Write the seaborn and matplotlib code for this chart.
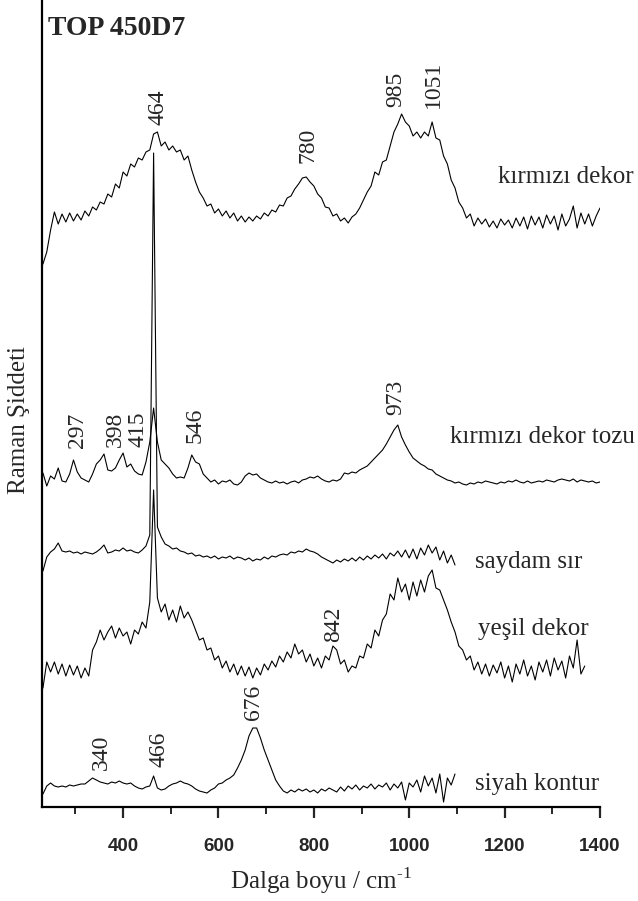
import numpy as np
import pandas as pd
import matplotlib
matplotlib.use("Agg")
import matplotlib.pyplot as plt
from matplotlib.ticker import MultipleLocator, FixedLocator
import seaborn as sns

# ---------------- data ----------------
wn_start = 232
wn_step = 8

names = ["kırmızı dekor", "kırmızı dekor tozu", "saydam sır", "yeşil dekor", "siyah kontur"]

kirmizi_dekor = [
    -42, -30, -8, 10, -2, 8, 0, 9, 1, 8, 2, 11, 6, 15, 12, 20, 18, 28, 25, 38,
    34, 50, 46, 58, 55, 64, 62, 70, 72, 88, 90, 76, 80, 72, 76, 70, 72, 62, 66, 52,
    40, 30, 24, 16, 18, 9, 13, 6, 11, 4, 9, 1, 6, 0, 5, 1, 6, 3, 9, 6,
    12, 10, 17, 16, 24, 26, 33, 38, 44, 45, 40, 36, 28, 24, 15, 14, 6, 8, 1, 4,
    -1, 5, 8, 14, 22, 30, 36, 50, 47, 60, 62, 76, 90, 98, 108, 100, 96, 86, 90, 84,
    90, 86, 100, 84, 82, 66, 58, 42, 34, 20, 14, 4, 8, -4, 4, -2, 3, -5, 1, -6,
    3, -3, 2, -6, 4, -4, 5, -7, 6, -3, 5, -6, 7, -2, 6, -8, 8, -4, 3, 16,
    -6, 9, -2, 8, -4, 6, 14,
]

kirmizi_dekor_tozu = [
    9, -4, 6, 3, 14, 1, 0, 8, 22, 10, 4, 2, 0, 8, 18, 22, 28, 12, 11, 14,
    22, 29, 15, 18, 11, 8, 7, 20, 40, 74, 40, 22, 18, 14, 8, 4, 5, 4, 14, 27,
    20, 18, 8, 4, 0, 2, -2, 1, 0, 2, -2, -3, 0, 6, 9, 7, 8, 4, 2, 0,
    -1, 1, -1, 0, -2, 0, 1, -1, 2, 3, 5, 4, 6, 3, 1, 0, 2, 1, 3, 9,
    8, 10, 9, 12, 14, 16, 20, 24, 28, 32, 38, 45, 52, 57, 45, 37, 30, 24, 21, 18,
    16, 13, 12, 8, 6, 4, 2, 1, -1, 0, -2, -3, -1, -2, 0, -1, 1, 0, -1, -2,
    0, -1, 1, 0, 2, 0, -1, 1, -1, 0, 1, 0, 2, 1, 0, 2, 3, 2, 1, 3,
    0, 2, 1, 0, 1, -1, 0,
]

saydam_sir = [
    -14, 0, 5, 8, 14, 6, 5, 6, 4, 5, 3, 5, 4, 3, 5, 8, 12, 4, 5, 7,
    6, 9, 6, 7, 5, 4, 7, 11, 22, 404, 30, 20, 13, 11, 8, 9, 6, 5, 3, 4,
    1, 2, 0, 1, -1, 1, -2, 0, -1, 1, -2, 0, -1, -3, -1, -4, -2, -3, 0, -2,
    1, 0, 2, 3, 2, 5, 4, 6, 5, 8, 6, 5, 3, 0, -2, -4, -6, -3, -5, -2,
    -4, -1, -4, 0, -3, 1, -2, 2, -1, 3, -2, 4, 1, 6, 0, 7, -1, 8, -2, 9,
    2, 12, 4, 10, -3, 6, -6, 2, -8,
]

yesil_dekor = [
    -18, 8, -2, 8, -4, 6, -6, 5, -5, 4, -8, 2, -6, 20, 28, 40, 30, 38, 44, 32,
    42, 34, 38, 26, 40, 36, 48, 42, 68, 180, 72, 58, 66, 50, 60, 48, 64, 52, 58, 50,
    40, 30, 32, 20, 22, 10, 14, 2, 9, -2, 6, -5, 4, -6, 3, -8, 2, -5, 6, 0,
    9, 3, 14, 8, 18, 12, 26, 16, 20, 8, 16, 4, 12, 2, 14, 10, 24, 20, 6, 10,
    -2, 4, 2, 14, 12, 26, 22, 40, 34, 50, 56, 76, 70, 92, 78, 86, 70, 88, 74, 90,
    78, 94, 100, 82, 80, 70, 60, 48, 38, 24, 20, 10, 14, 0, 8, -4, 6, -6, 5, -3,
    8, -8, 4, -12, 6, -4, 10, -6, 4, -10, 8, -2, 10, -6, 12, 0, 9, -8, 14, 2,
    30, -4, 4,
]

siyah_kontur = [
    -6, 2, 5, 2, 1, 2, 1, 3, 2, 3, 4, 4, 7, 10, 8, 6, 5, 4, 6, 5,
    7, 5, 4, 5, 2, 0, -1, 1, 2, 12, 0, -2, -1, 2, 4, 5, 7, 5, 4, 2,
    -1, -3, -4, -5, -2, 0, 4, 5, 8, 10, 13, 20, 28, 38, 52, 60, 60, 50, 38, 28,
    18, 8, 2, -3, -5, -2, -4, -1, -3, -1, -4, -2, -5, -1, -3, 0, -2, -4, 1, -3,
    2, -1, 3, -2, 2, 0, 4, -1, 3, 1, 5, -2, 4, 0, 6, -12, 5, 1, 8, -4,
    12, 2, 10, -5, 14, -14, 10, 3, 14,
]

spectra = [kirmizi_dekor, kirmizi_dekor_tozu, saydam_sir, yesil_dekor, siyah_kontur]

# peak labels
peak_texts = ["464", "780", "985", "1051", "297", "398", "415", "546", "973", "842", "340", "466", "676"]

x_ticks_major = [400, 600, 800, 1000, 1200, 1400]

# ---------------- layout / style ----------------
offsets = [585, 325, 250, 137, 19]
peak_x = [473, 788, 972, 1050, 305, 383, 431, 551, 972, 842, 354, 475, 674]
peak_y = [682, 644, 700, 699, 359, 360, 360, 364, 392, 165, 37, 40, 87]
name_x = [1186, 1085, 1138, 1144, 1138]
name_y = [624, 364, 239, 172, 17]

sns.set_style("ticks")
plt.rcParams["font.family"] = ["Liberation Serif", "DejaVu Serif"]
plt.rcParams["mathtext.fontset"] = "custom"
plt.rcParams["mathtext.rm"] = "Liberation Serif"

fig = plt.figure(figsize=(6.38, 9.01), dpi=100)
ax = fig.add_axes([42 / 638, 1 - 807 / 901, 558 / 638, 807 / 901])

rows = []
for name, vals, off in zip(names, spectra, offsets):
    for i, v in enumerate(vals):
        rows.append({"name": name, "wn": wn_start + wn_step * i, "val": v + off})
df = pd.DataFrame(rows)

for name in names:
    sns.lineplot(data=df[df["name"] == name], x="wn", y="val", color="black",
                 lw=0.8, ax=ax, estimator=None, sort=False, legend=False)

ax.set_xlim(230, 1400)
ax.set_ylim(0, 807)

for s in ["top", "right"]:
    ax.spines[s].set_visible(False)
for s in ["left", "bottom"]:
    ax.spines[s].set_linewidth(1.6)
    ax.spines[s].set_color("black")

ax.set_yticks([])
ax.xaxis.set_major_locator(FixedLocator(x_ticks_major))
ax.xaxis.set_minor_locator(MultipleLocator(100))
ax.tick_params(axis="x", which="major", direction="out", length=8, width=1.6, pad=14)
ax.tick_params(axis="x", which="minor", direction="out", length=5, width=1.4)
ax.set_xticklabels([str(t) for t in x_ticks_major],
                   fontdict={"family": "Liberation Sans", "weight": "bold", "size": 13.5})

ax.set_xlabel(r"Dalga boyu / cm$^{\text{-1}}$", fontsize=18, labelpad=8)
ax.set_ylabel("Raman Şiddeti", fontsize=18)
ax.yaxis.set_label_coords(-0.022, 0.48)

for t, x, y in zip(peak_texts, peak_x, peak_y):
    ax.text(x, y, t, rotation=90, ha="center", va="bottom", fontsize=17)

for n, x, y in zip(names, name_x, name_y):
    ax.text(x, y, n, ha="left", va="baseline", fontsize=18, clip_on=False)

ax.text(243, 772, "TOP 450D7", fontsize=20, fontweight="bold", ha="left", va="baseline")

fig.savefig("out.png", dpi=100)
